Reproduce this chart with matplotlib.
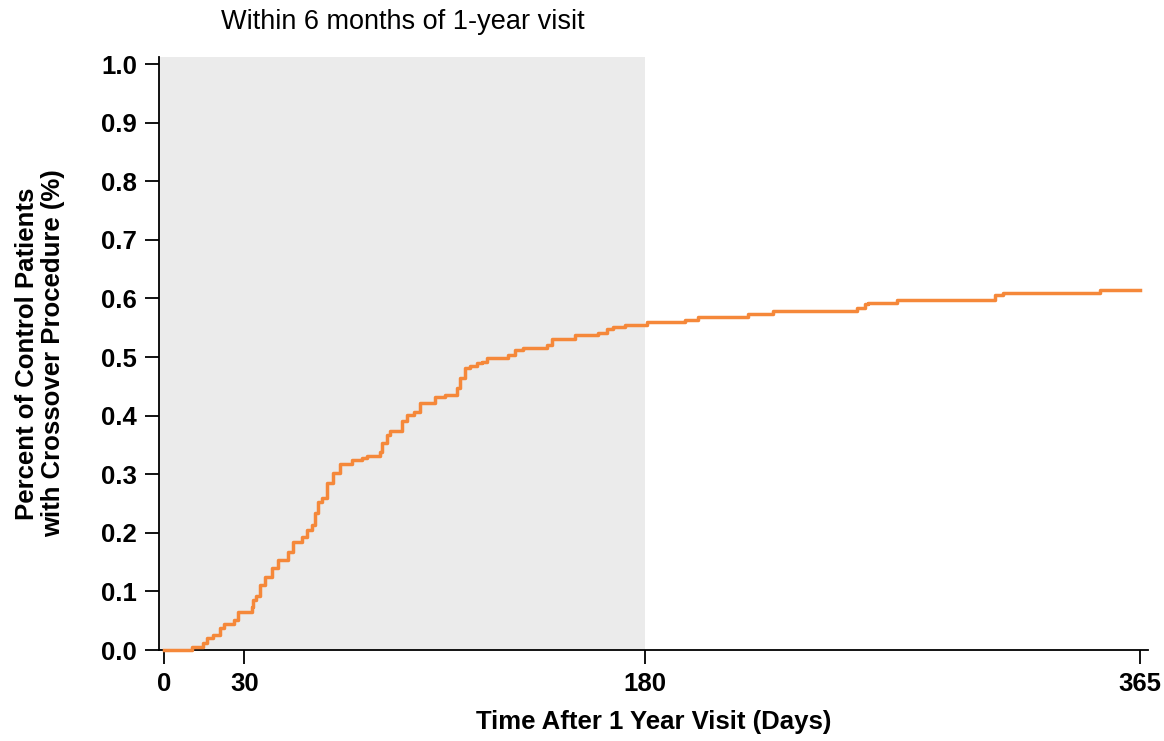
import numpy as np
import matplotlib.pyplot as plt

plt.rcParams['font.family'] = ['Liberation Sans', 'DejaVu Sans']

# step times (days after 1-year visit) and cumulative proportion after each step
days = [0, 10.3, 14.6, 16, 18.3, 21, 22.5, 26, 27.7, 32.8, 33.4, 34.5, 36, 37.8,
        40.3, 42.7, 46.4, 48.4, 51.4, 53.4, 55.2, 56.5, 57.6, 59, 60.8, 63.3,
        65.8, 70.2, 73.9, 75.8, 80.8, 81.4, 83.3, 84.5, 88.9, 90.8, 93.3, 95.7,
        101.3, 105.1, 109.5, 110.7, 112.6, 114.4, 116.9, 118.8, 120.7, 128.8,
        131.3, 134.4, 143.1, 145, 153.7, 162.4, 165.6, 168, 172.4, 180.5, 194.8,
        199.8, 218.5, 227.9, 259, 262.2, 263.3, 274, 310.8, 313.8, 350, 365]
pct = [0.0, 0.005, 0.012, 0.02, 0.025, 0.037, 0.045, 0.051, 0.065, 0.073, 0.085,
       0.093, 0.111, 0.125, 0.14, 0.154, 0.168, 0.185, 0.193, 0.205, 0.213,
       0.234, 0.253, 0.259, 0.285, 0.302, 0.318, 0.324, 0.327, 0.331, 0.338,
       0.353, 0.367, 0.373, 0.39, 0.401, 0.407, 0.421, 0.432, 0.435, 0.447,
       0.464, 0.481, 0.485, 0.489, 0.492, 0.498, 0.503, 0.512, 0.515, 0.520,
       0.530, 0.537, 0.541, 0.547, 0.551, 0.555, 0.560, 0.563, 0.569, 0.573,
       0.579, 0.583, 0.590, 0.593, 0.598, 0.606, 0.609, 0.614, 0.614]

xticks = [0, 30, 180, 365]
yticks = np.round(np.arange(0, 1.01, 0.1), 1)

fig = plt.figure(figsize=(11.64, 7.41), dpi=100)
ax = fig.add_axes([0.1366, 0.1228, 0.8497, 0.8003])

xmin, xmax = -1.9, 368
ax.axvspan(xmin, 180, color='#ebebeb', lw=0, zorder=0)
ax.plot(days, pct, drawstyle='steps-post', color='#f5883a', lw=2.5, zorder=3,
        clip_on=False)

ax.set_xlim(xmin, xmax)
ax.set_ylim(0, 1.012)
ax.set_xticks(xticks)
ax.set_xticklabels([str(t) for t in xticks], fontsize=18.5, fontweight='bold')
ax.set_yticks(yticks)
ax.set_yticklabels(['%.1f' % v for v in yticks], fontsize=18.5, fontweight='bold')
ax.tick_params(direction='out', length=10, width=1.3, pad=6)

for s in ['top', 'right']:
    ax.spines[s].set_visible(False)
for s in ['left', 'bottom']:
    ax.spines[s].set_linewidth(1.3)

ax.set_xlabel('Time After 1 Year Visit (Days)', fontsize=18.5, fontweight='bold', labelpad=10)
ax.set_ylabel('Percent of Control Patients\nwith Crossover Procedure (%)', fontsize=18.5,
              fontweight='bold', labelpad=26, linespacing=1.1)
fig.text(0.346, 0.97, 'Within 6 months of 1-year visit', fontsize=19.5, ha='center', va='center')

fig.savefig('out.png', dpi=100)
